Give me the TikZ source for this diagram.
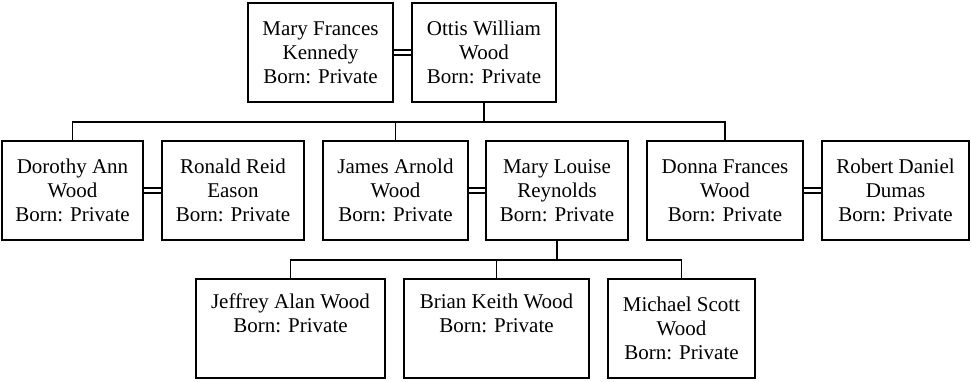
\documentclass[tikz,border=0pt]{standalone}
\usepackage{fontspec}
\setmainfont{Liberation Serif}
\begin{document}
\begin{tikzpicture}[x=1pt,y=-1pt,
  person/.style={draw=black, line width=1.6pt, fill=white, inner sep=0pt,
    minimum height=99pt, align=center, font=\fontsize{21}{24}\selectfont},
  link/.style={draw=black, line width=1.6pt},
  marr/.style={draw=black, line width=1.3pt}]
\useasboundingbox (0,0) rectangle (972,381);
% generation 1
\node[person, minimum width=145pt] (mfk) at (320.5,52.5) {Mary Frances\\Kennedy\\Born: Private};
\node[person, minimum width=144pt] (oww) at (484,52.5) {Ottis William\\Wood\\Born: Private};
% generation 2
\node[person, minimum width=141pt] (dor) at (72.5,190.5) {Dorothy Ann\\Wood\\Born: Private};
\node[person, minimum width=142pt] (ron) at (233,190.5) {Ronald Reid\\Eason\\Born: Private};
\node[person, minimum width=145pt] (jam) at (395.5,190.5) {James Arnold\\Wood\\Born: Private};
\node[person, minimum width=142pt] (mlr) at (557,190.5) {Mary Louise\\Reynolds\\Born: Private};
\node[person, minimum width=156pt] (don) at (725,190.5) {Donna Frances\\Wood\\Born: Private};
\node[person, minimum width=147pt] (rob) at (895.5,190.5) {Robert Daniel\\Dumas\\Born: Private};
% generation 3
\node[person, minimum width=189pt] (jef) at (290.5,328.5) {Jeffrey Alan Wood\\Born: Private\\\strut};
\node[person, minimum width=185pt] (bri) at (496.5,328.5) {Brian Keith Wood\\Born: Private\\\strut};
\node[person, minimum width=147pt] (mic) at (681.5,328.5) {Michael Scott\\Wood\\Born: Private};
% marriages
\foreach \a/\b in {mfk/oww, dor/ron, jam/mlr, don/rob}{
  \draw[marr] ([yshift=2.5pt]\a.east) -- ([yshift=2.5pt]\b.west);
  \draw[marr] ([yshift=-2.5pt]\a.east) -- ([yshift=-2.5pt]\b.west);
}
% descent lines
\coordinate (busA) at (0,122);
\coordinate (busB) at (0,260);
\draw[link] (oww.south) -- (oww.south |- busA);
\draw[link] (dor.north) |- (don.north |- busA) -- (don.north);
\draw[link] (jam.north) -- (jam.north |- busA);
\draw[link] (mlr.south) -- (mlr.south |- busB);
\draw[link] (jef.north) |- (mic.north |- busB) -- (mic.north);
\draw[link] (bri.north) -- (bri.north |- busB);
\end{tikzpicture}
\end{document}
